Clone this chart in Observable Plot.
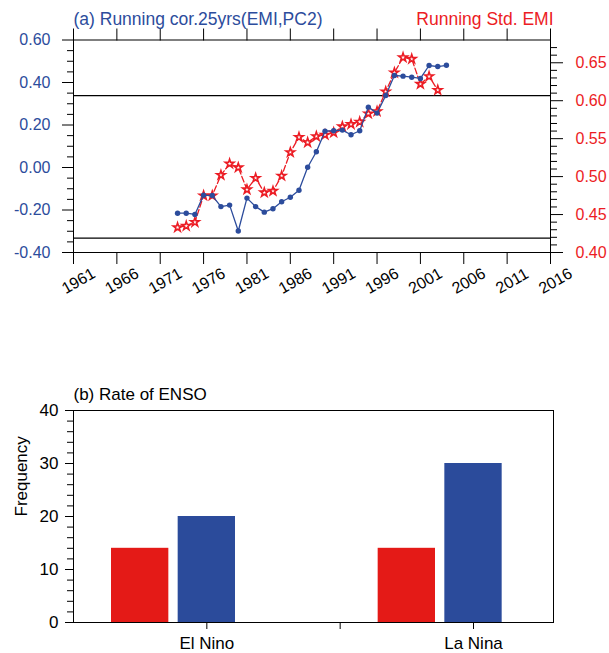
<!DOCTYPE html>
<html>
<head>
<meta charset="utf-8">
<script src="https://cdn.jsdelivr.net/npm/d3@7"></script>
<script src="https://cdn.jsdelivr.net/npm/@observablehq/plot@0.6"></script>
<style>
  body { margin: 0; background: #fff; }
  #chart { position: relative; width: 609px; height: 653px; }
  #chart svg { position: absolute; left: 0; }
</style>
</head>
<body>
<div id="chart"></div>
<script>
// ---- (a) running statistics ----
const corYears = [1973, 1974, 1975, 1976, 1977, 1978, 1979, 1980, 1981, 1982, 1983, 1984, 1985, 1986, 1987, 1988,
  1989, 1990, 1991, 1992, 1993, 1994, 1995, 1996, 1997, 1998, 1999, 2000, 2001, 2002, 2003, 2004];
const corValues = [-0.215, -0.215, -0.221, -0.130, -0.132, -0.184, -0.177, -0.299, -0.144, -0.184, -0.210, -0.194,
  -0.161, -0.140, -0.107, 0.001, 0.074, 0.171, 0.173, 0.176, 0.154, 0.173, 0.284, 0.256, 0.339, 0.433, 0.430,
  0.425, 0.419, 0.480, 0.475, 0.481];
const stdYears = [1973, 1974, 1975, 1976, 1977, 1978, 1979, 1980, 1981, 1982, 1983, 1984, 1985, 1986, 1987, 1988,
  1989, 1990, 1991, 1992, 1993, 1994, 1995, 1996, 1997, 1998, 1999, 2000, 2001, 2002, 2003];
const stdValues = [0.433, 0.435, 0.440, 0.475, 0.475, 0.502, 0.517, 0.512, 0.483, 0.498, 0.479, 0.481, 0.501,
  0.532, 0.552, 0.545, 0.553, 0.555, 0.558, 0.566, 0.569, 0.572, 0.583, 0.586, 0.612, 0.637, 0.657, 0.655,
  0.622, 0.632, 0.614];
const sigLevels = [0.338, -0.332];
const yearTicks = [1961, 1966, 1971, 1976, 1981, 1986, 1991, 1996, 2001, 2006, 2011, 2016];
const corTicks = [-0.4, -0.2, 0.0, 0.2, 0.4, 0.6];
const corMinor = [-0.35, -0.3, -0.25, -0.15, -0.1, -0.05, 0.05, 0.1, 0.15, 0.25, 0.3, 0.35, 0.45, 0.5, 0.55];
const stdTicks = [0.40, 0.45, 0.50, 0.55, 0.60, 0.65];
const stdMinor = [0.41, 0.42, 0.43, 0.44, 0.46, 0.47, 0.48, 0.49, 0.51, 0.52, 0.53, 0.54, 0.56, 0.57, 0.58, 0.59,
  0.61, 0.62, 0.63, 0.64, 0.66, 0.67];

// ---- (b) ENSO event counts ----
const categories = ["El Nino", "La Nina"];
const redCounts = [14, 14];
const blueCounts = [20, 30];
const freqTicks = [0, 10, 20, 30, 40];
const freqMinor = [2, 4, 6, 8, 12, 14, 16, 18, 22, 24, 26, 28, 32, 34, 36, 38];

const FONT = '"Liberation Sans", Arial, Helvetica, sans-serif';
const BLUE = "#2c4c9c";
const RED = "#ec1c24";
const BAR_RED = "#e41a17";
const BAR_BLUE = "#2b4b9b";

const corDomain = [-0.4, 0.6];
const stdDomain = [0.40, 0.68];
// the right-hand (std) axis shares the frame: map its values onto the correlation scale
const stdToCor = d3.scaleLinear(stdDomain, corDomain);

const corData = corYears.map((year, i) => ({year, value: corValues[i]}));
const stdData = stdYears.map((year, i) => ({year, value: stdToCor(stdValues[i])}));

const chart = document.getElementById("chart");

const topPlot = Plot.plot({
  width: 609,
  height: 310,
  marginTop: 39.5,
  marginBottom: 58,
  marginLeft: 73,
  marginRight: 59,
  style: {fontFamily: FONT, fontSize: "16px", background: "transparent", overflow: "visible"},
  x: {domain: [1961, 2016]},
  y: {domain: corDomain},
  marks: [
    Plot.ruleY(sigLevels, {stroke: "#000", strokeWidth: 1.2}),
    Plot.line(stdData, {x: "year", y: "value", stroke: RED, strokeWidth: 1.3, strokeDasharray: "6,2.5"}),
    Plot.dot(stdData, {x: "year", y: "value", symbol: "star", r: 2.7, fill: "#fff", stroke: RED, strokeWidth: 1.6}),
    Plot.line(corData, {x: "year", y: "value", stroke: BLUE, strokeWidth: 1.3}),
    Plot.dot(corData, {x: "year", y: "value", r: 2.7, fill: BLUE}),
    // left axis (correlation)
    Plot.axisY(corTicks, {anchor: "left", tickSize: 11, tickFormat: () => "", label: null}),
    Plot.axisY(corMinor, {anchor: "left", tickSize: 6, tickFormat: () => "", label: null}),
    Plot.axisY(corTicks, {anchor: "left", tickSize: 0, tickPadding: 23, tickFormat: d => d.toFixed(2),
      fill: BLUE, fontSize: 16, label: null}),
    // right axis (standard deviation)
    Plot.axisY(stdTicks.map(stdToCor), {anchor: "right", tickSize: 12, tickFormat: () => "", label: null}),
    Plot.axisY(stdMinor.map(stdToCor), {anchor: "right", tickSize: 6, tickFormat: () => "", label: null}),
    Plot.axisY(stdTicks.map(stdToCor), {anchor: "right", tickSize: 0, tickPadding: 25,
      tickFormat: d => stdToCor.invert(d).toFixed(2), fill: RED, fontSize: 16, label: null}),
    // year axes: ticks on both edges, slanted labels below
    Plot.axisX(yearTicks, {anchor: "top", tickSize: 12, tickFormat: () => "", label: null}),
    Plot.axisX(yearTicks, {anchor: "bottom", tickSize: 12, tickFormat: () => "", label: null}),
    Plot.text(yearTicks, {x: d => d, text: d => String(d), frameAnchor: "bottom", dy: 28.5, dx: 5,
      rotate: -30, textAnchor: "middle", lineAnchor: "middle", fontSize: 16, fill: "#000"}),
    Plot.frame({stroke: "#000"}),
    Plot.text(["(a) Running cor.25yrs(EMI,PC2)"], {frameAnchor: "top-left", dy: -21, textAnchor: "start",
      lineAnchor: "middle", fill: BLUE, fontSize: 17.5}),
    Plot.text(["Running Std. EMI"], {frameAnchor: "top-right", dy: -21, dx: 3, textAnchor: "end",
      lineAnchor: "middle", fill: RED, fontSize: 17.5})
  ]
});
topPlot.style.top = "0px";
chart.appendChild(topPlot);

// grouped bars: red bar half a slot left of each category, blue bar on it
const BAR_W = 0.43;
const bars = [];
categories.forEach((c, i) => {
  const pos = 1 + 2 * i;
  bars.push({x1: pos - 0.5 - BAR_W / 2, x2: pos - 0.5 + BAR_W / 2, value: redCounts[i], color: BAR_RED});
  bars.push({x1: pos - BAR_W / 2, x2: pos + BAR_W / 2, value: blueCounts[i], color: BAR_BLUE});
});
const catTicks = [1, 2, 3];
const catLabel = d => d === 1 ? categories[0] : d === 3 ? categories[1] : "";

const bottomPlot = Plot.plot({
  width: 609,
  height: 283,
  marginTop: 40,
  marginBottom: 31,
  marginLeft: 73,
  marginRight: 56,
  style: {fontFamily: FONT, fontSize: "17px", background: "transparent", overflow: "visible"},
  x: {domain: [0, 3.6]},
  y: {domain: [0, 40]},
  marks: [
    Plot.rectY(bars, {x1: "x1", x2: "x2", y: "value", fill: "color"}),
    Plot.axisY(freqTicks, {anchor: "left", tickSize: 8, tickPadding: 7, tickFormat: d => String(d),
      fontSize: 17, label: null}),
    Plot.axisY(freqMinor, {anchor: "left", tickSize: 6, tickFormat: () => "", label: null}),
    Plot.axisX(catTicks, {anchor: "bottom", tickSize: 7, tickPadding: 7, tickFormat: catLabel,
      fontSize: 17, label: null}),
    Plot.frame({stroke: "#000"}),
    Plot.text(["(b) Rate of ENSO"], {frameAnchor: "top-left", dy: -16, textAnchor: "start",
      lineAnchor: "middle", fill: "#000", fontSize: 17}),
    Plot.text(["Frequency"], {frameAnchor: "left", dx: -52, rotate: -90, fill: "#000", fontSize: 17})
  ]
});
bottomPlot.style.top = "370px";
chart.appendChild(bottomPlot);
</script>
</body>
</html>
